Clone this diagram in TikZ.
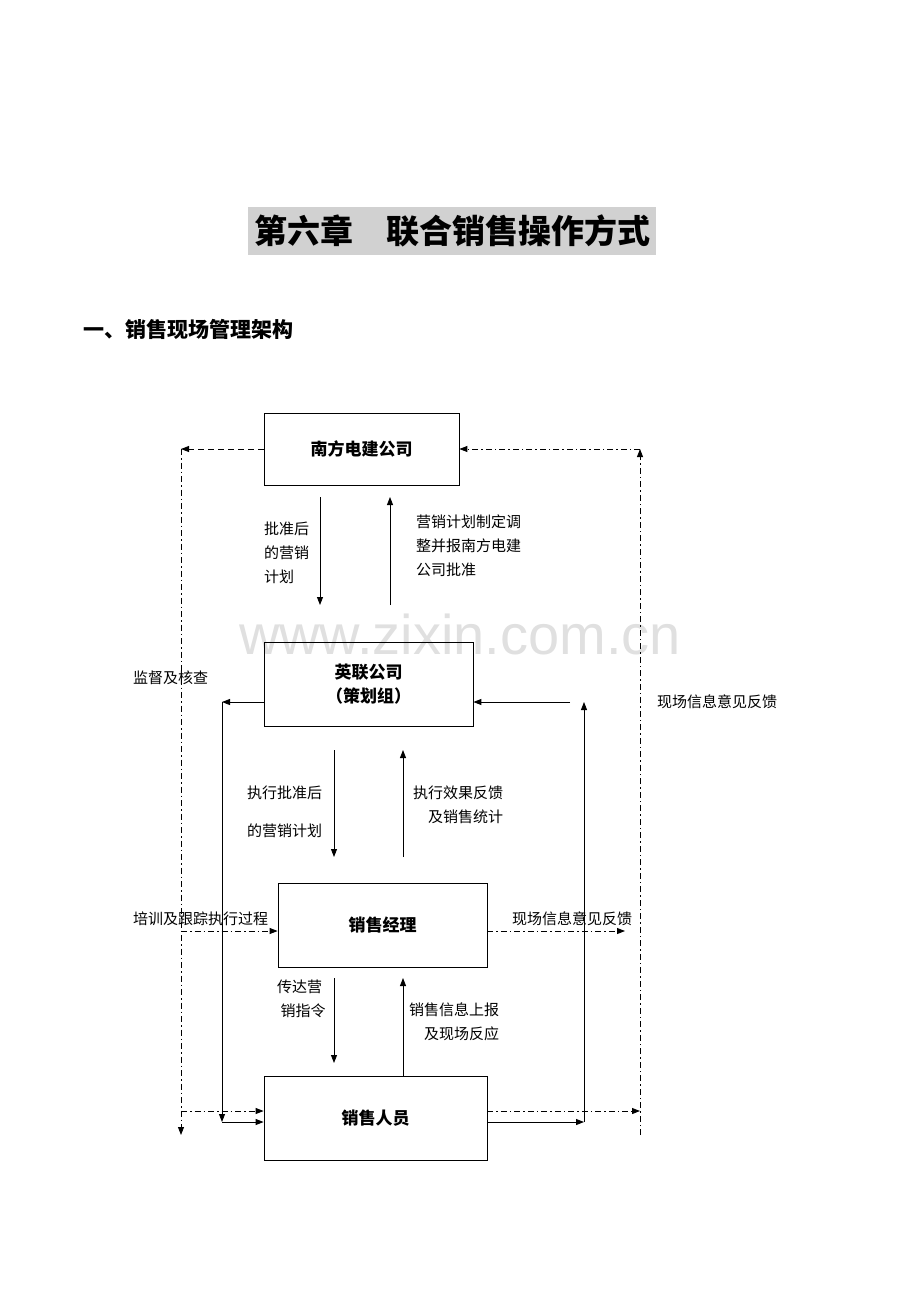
\documentclass[tikz,border=0pt]{standalone}
\usepackage{fontspec}
\setmainfont{Noto Sans CJK SC}
\newfontfamily\wm{Liberation Sans}
\usetikzlibrary{arrows.meta}
\begin{document}
\begin{tikzpicture}[x=1pt,y=-1pt,
 box/.style={draw,line width=0.8pt,inner sep=0pt,font=\fontsize{17}{20}\selectfont\bfseries},
 lab/.style={font=\fontsize{15}{24}\selectfont,align=left,inner sep=0pt},
 sa/.style={line width=0.9pt,-{Triangle[length=8pt,width=6pt]}},
 dd/.style={line width=0.9pt,dash pattern=on 6pt off 3pt on 1.5pt off 3pt},
 dda/.style={dd,-{Triangle[length=8pt,width=6pt]}}]
\useasboundingbox (0,0) rectangle (920,1302);
\node[fill=black!18,minimum width=408,minimum height=48,inner sep=0pt,font=\fontsize{33}{35}\selectfont\bfseries] (title) at (452,231) {第六章\hspace{1em}联合销售操作方式};
\node[anchor=west,inner sep=0pt,font=\fontsize{21}{24}\selectfont\bfseries] (head) at (83,329) {一、销售现场管理架构};
\node[text=black!12,font=\wm\fontsize{56}{56}\selectfont] (wmk) at (460,634) {www.zixin.com.cn};
\node[box,minimum width=195,minimum height=72] (nf) at (361.5,449) {南方电建公司};
\node[box,minimum width=209,minimum height=84,align=center,font=\fontsize{17}{24}\selectfont\bfseries] (yl) at (368.5,684) {英联公司\\（策划组）};
\node[box,minimum width=209,minimum height=84] (jl) at (382.5,925) {销售经理};
\node[box,minimum width=223,minimum height=84] (ry) at (375.5,1118) {销售人员};
\coordinate (a1) at (320,497); \coordinate (a2) at (320,605);
\coordinate (b1) at (390,605); \coordinate (b2) at (390,497);
\coordinate (c1) at (334,750); \coordinate (c2) at (334,857);
\coordinate (d1) at (403,857); \coordinate (d2) at (403,750);
\coordinate (e1) at (334,978); \coordinate (e2) at (334,1063);
\coordinate (f2) at (403,978);
\draw[sa] (a1)--(a2); \draw[sa] (b1)--(b2);
\draw[sa] (c1)--(c2); \draw[sa] (d1)--(d2);
\draw[sa] (e1)--(e2); \draw[sa] (ry.north -| f2)--(f2);
\node[lab,anchor=north west] (l1) at (264,522) {批准后\\的营销\\计划};
\node[lab,anchor=north west] (l2) at (416,515) {营销计划制定调\\整并报南方电建\\公司批准};
\node[lab,anchor=north west] (l3) at (247,786) {执行批准后\\[0.9em]的营销计划};
\node[lab,anchor=north west,align=right] (l4) at (413,786) {执行效果反馈\\及销售统计};
\node[lab,anchor=north west,align=left] (l5) at (277,980) {传达营\\\ 销指令};
\node[lab,anchor=north west,align=right] (l6) at (409,1003) {销售信息上报\\及现场反应};
\node[lab,anchor=west] (l7) at (133,678) {监督及核查};
\node[lab,anchor=west] (l8) at (657,702) {现场信息意见反馈};
\node[lab,anchor=west] (l9) at (133,919) {培训及跟踪执行过程};
\node[lab,anchor=west] (l10) at (512,919) {现场信息意见反馈};
\coordinate (L1) at (181,449); \coordinate (L2) at (181,1135);
\draw[line width=0.9pt,dash pattern=on 6pt off 4pt,-{Triangle[length=8pt,width=6pt]}] (nf.west)--(L1);
\draw[dda] (L1)--(L2);
\coordinate (R1) at (640,1135); \coordinate (R2) at (640,449);
\draw[dda] (R1)--(R2);
\draw[dda] (R2)--(nf.east);
\coordinate (S1) at (222,702); \coordinate (S2) at (222,1122);
\draw[sa] (yl.west |- S1)--(S1);
\draw[sa] (S1)--(S2);
\draw[sa] (S2)--(ry.west |- S2);
\coordinate (T1) at (584,1122); \coordinate (T2) at (584,702); \coordinate (T3) at (570,702);
\draw[sa] (ry.east |- T1)--(T1);
\draw[sa] (T1)--(T2);
\draw[sa] (T3)--(yl.east |- T3);
\coordinate (m1) at (181,931); \coordinate (m2) at (625,931);
\draw[dda] (m1)--(jl.west |- m1);
\draw[dda] (jl.east |- m2)--(m2);
\coordinate (n1) at (181,1111); \coordinate (n2) at (640,1111);
\draw[dda] (n1)--(ry.west |- n1);
\draw[dda] (ry.east |- n2)--(n2);
\end{tikzpicture}
\end{document}
